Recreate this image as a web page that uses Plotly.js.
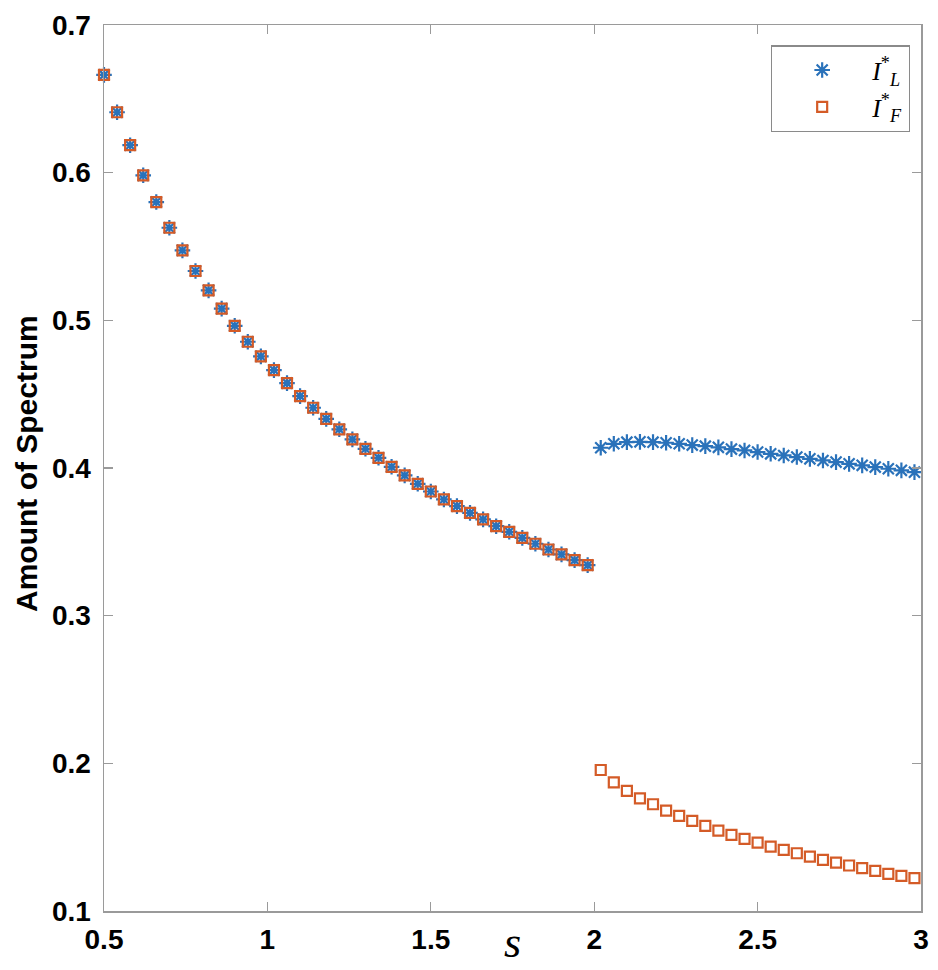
<!DOCTYPE html>
<html>
<head>
<meta charset="utf-8">
<script src="https://cdn.plot.ly/plotly-3.0.1.min.js"></script>
<style>
html,body{margin:0;padding:0;background:#fff;}
#chart{width:938px;height:970px;}
</style>
</head>
<body>
<div id="chart"></div>
<script>
// s values (x axis)
const sLeft = [0.50,0.54,0.58,0.62,0.66,0.70,0.74,0.78,0.82,0.86,0.90,0.94,0.98,1.02,1.06,1.10,1.14,1.18,1.22,1.26,1.30,1.34,1.38,1.42,1.46,1.50,1.54,1.58,1.62,1.66,1.70,1.74,1.78,1.82,1.86,1.90,1.94,1.98];
const sRight = [2.02,2.06,2.10,2.14,2.18,2.22,2.26,2.30,2.34,2.38,2.42,2.46,2.50,2.54,2.58,2.62,2.66,2.70,2.74,2.78,2.82,2.86,2.90,2.94,2.98];

// shared values for s < 2 (I_L* and I_F* coincide)
const sharedLeft = [0.6662,0.6409,0.6186,0.5982,0.5801,0.5627,0.5474,0.5334,0.5203,0.5079,0.4963,0.4855,0.4756,0.4663,0.4575,0.4487,0.4408,0.4333,0.4262,0.4194,0.4130,0.4069,0.4008,0.3950,0.3893,0.3841,0.3787,0.3742,0.3696,0.3652,0.3606,0.3568,0.3527,0.3487,0.3448,0.3415,0.3376,0.3342];

// I_L* for s > 2
const iLRight = [0.4137,0.4164,0.4175,0.4177,0.4175,0.4171,0.4164,0.4155,0.4148,0.4140,0.4128,0.4119,0.4108,0.4096,0.4085,0.4074,0.4062,0.4051,0.4040,0.4028,0.4018,0.4006,0.3995,0.3984,0.3972];

// I_F* for s > 2
const iFRight = [0.1955,0.1871,0.1813,0.1763,0.1723,0.1680,0.1644,0.1610,0.1576,0.1544,0.1515,0.1488,0.1463,0.1436,0.1414,0.1391,0.1368,0.1346,0.1328,0.1308,0.1290,0.1272,0.1252,0.1238,0.1222];

const xTicks = [0.5,1,1.5,2,2.5,3];
const xTickText = ['0.5','1','1.5','2','2.5','3'];
const yTicks = [0.1,0.2,0.3,0.4,0.5,0.6,0.7];
const yTickText = ['0.1','0.2','0.3','0.4','0.5','0.6','0.7'];

const blue = '#2a72ba';
const orange = '#d45b27';

const traceL = {
  x: sLeft.concat(sRight),
  y: sharedLeft.concat(iLRight),
  mode: 'markers',
  type: 'scatter',
  name: '<i>I</i><sup>*</sup><sub><i>L</i></sub>',
  marker: {symbol: 'asterisk', size: 13, color: blue, line: {color: blue, width: 2.2}},
  cliponaxis: false
};
const traceF = {
  x: sLeft.concat(sRight),
  y: sharedLeft.concat(iFRight),
  mode: 'markers',
  type: 'scatter',
  name: '<i>I</i><sup>*</sup><sub><i>F</i></sub>',
  marker: {symbol: 'square-open', size: 10, color: orange, line: {color: orange, width: 2.2}},
  cliponaxis: false
};

const axisCommon = {
  showgrid: false,
  zeroline: false,
  showline: true,
  linecolor: '#9a9a9a',
  linewidth: 1.5,
  mirror: 'ticks',
  ticks: 'inside',
  ticklen: 9,
  tickwidth: 1.3,
  tickcolor: '#9a9a9a',
  tickfont: {family: 'Liberation Sans, Arial, sans-serif', size: 28, color: '#000', weight: 'bold'}
};

const layout = {
  width: 938,
  height: 970,
  margin: {l: 104, r: 17, t: 25, b: 59},
  paper_bgcolor: '#fff',
  plot_bgcolor: '#fff',
  showlegend: true,
  xaxis: Object.assign({}, axisCommon, {
    range: [0.5, 3],
    tickmode: 'array',
    tickvals: xTicks,
    ticktext: xTickText,
    ticklabelstandoff: 3
  }),
  yaxis: Object.assign({}, axisCommon, {
    range: [0.1, 0.7],
    tickmode: 'array',
    tickvals: yTicks,
    ticktext: yTickText,
    ticklabelstandoff: 6
  }),
  legend: {
    x: 0.9865, xanchor: 'right',
    y: 0.977, yanchor: 'top',
    bgcolor: '#fff',
    bordercolor: '#8a8a8a',
    borderwidth: 1.2,
    font: {family: 'Liberation Serif, DejaVu Serif, serif', size: 26, color: '#000'},
    itemwidth: 90,
    tracegroupgap: 0
  },
  annotations: [
    {
      text: '<b>Amount of Spectrum</b>',
      xref: 'paper', yref: 'paper',
      x: -0.0955, y: 0.5056,
      xanchor: 'center', yanchor: 'middle',
      textangle: -90,
      showarrow: false,
      font: {family: 'Liberation Sans, Arial, sans-serif', size: 30, color: '#000'}
    },
    {
      text: '<i>s</i>',
      xref: 'x', yref: 'paper',
      x: 1.75, y: -0.035,
      xanchor: 'center', yanchor: 'middle',
      showarrow: false,
      font: {family: 'Liberation Serif, DejaVu Serif, serif', size: 44, color: '#000'}
    }
  ]
};

Plotly.newPlot('chart', [traceL, traceF], layout, {displayModeBar: false, staticPlot: true});
</script>
</body>
</html>
